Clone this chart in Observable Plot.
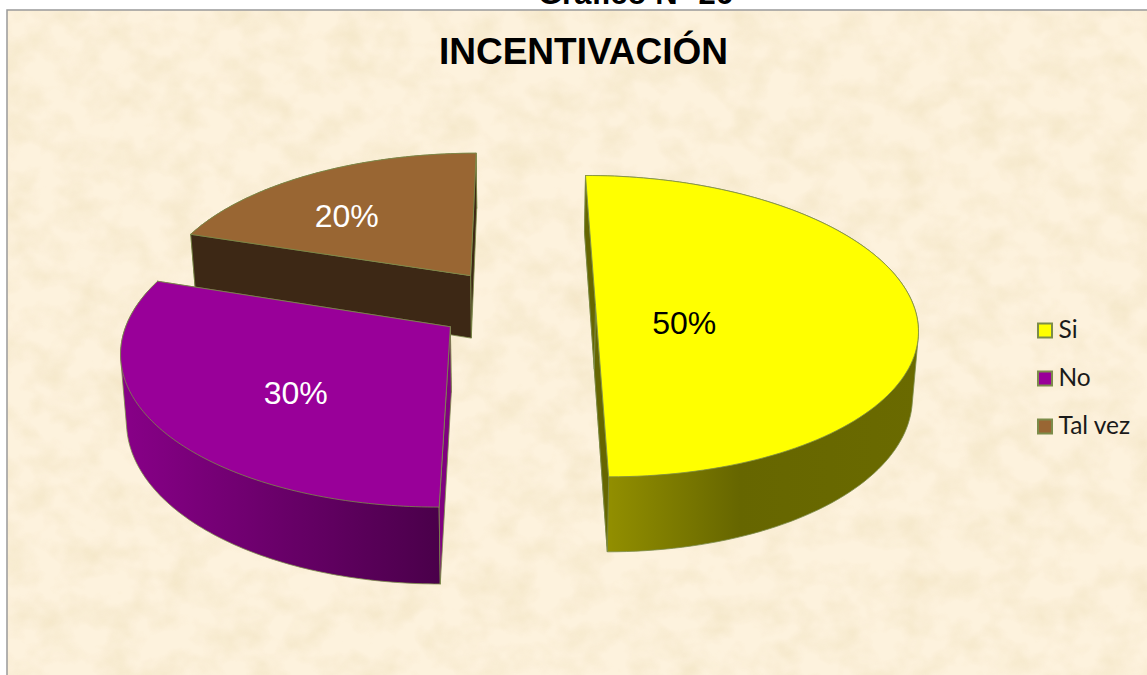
<!DOCTYPE html>
<html><head><meta charset="utf-8">
<style>html,body{margin:0;padding:0;background:#fff;overflow:hidden}svg{display:block}</style>
<script src="https://cdn.jsdelivr.net/npm/d3@7"></script>
<script src="https://cdn.jsdelivr.net/npm/@observablehq/plot@0.6"></script>
</head><body><div id="chart"></div>
<script>
const pageTitle = "Gráfico N° 26";
const chartTitle = "INCENTIVACIÓN";
const categories = ["Si", "No", "Tal vez"];
const values = [50, 30, 20];
const labels = ["50%", "30%", "20%"];
const topColors = ["#ffff00", "#990099", "#996633"];
const labelColors = ["#000000", "#ffffff", "#ffffff"];
const wallFills = ["url(#wallSi)", "url(#wallNo)", "#3d2815"];
const cutFills = ["#666600", "#800080", "#3d2815"];
const edge = "#7c8c4a";

// camera of the tilted pie: disc coordinates (u right, v toward the viewer) to the page
const cam = {x0: 515.5, y0: -729, A: 2225, H: 7232, d: 7, thick: 450, shrink: 0.985, explode: 0.25};
const project = (u, v, low) => {
  const w = cam.d - v;
  const x = cam.A * u / w * (low ? cam.shrink : 1);
  return {x: cam.x0 + x, y: cam.y0 + cam.H / w + (low ? cam.thick / w : 0)};
};
// label anchors in disc coordinates
const labelAnchors = [[0.52, 0.125], [-0.638, 0.555], [-0.582, -0.653]];

const total = d3.sum(values);
let acc = 0;
const slices = values.map((v, i) => {
  const a0 = acc / total * 2 * Math.PI; acc += v;
  const a1 = acc / total * 2 * Math.PI;
  const mid = (a0 + a1) / 2;
  return {i, a0, a1, cu: cam.explode * Math.sin(mid), cv: -cam.explode * Math.cos(mid)};
});
const rim = (s, a, low) => project(s.cu + Math.sin(a), s.cv - Math.cos(a), low);
const apex = (s, low) => project(s.cu, s.cv, low);
const arc = (s, low) => d3.range(0, 121).map(k => rim(s, s.a0 + (s.a1 - s.a0) * k / 120, low));
const close = pts => [...pts, pts[0]];
const poly = (pts, fill) => Plot.line(close(pts), {x: "x", y: "y", fill, stroke: edge, strokeWidth: 0.8, strokeLinejoin: "round"});
const hull = pts => d3.polygonHull(pts.map(p => [p.x, p.y])).map(([x, y]) => ({x, y}));

const sliceMarks = [2, 1, 0].flatMap(i => {
  const s = slices[i];
  return [
    poly(hull([...arc(s), ...arc(s, true)]), wallFills[i]),
    poly([rim(s, s.a1), apex(s), apex(s, true), rim(s, s.a1, true)], cutFills[i]),
    poly([rim(s, s.a0), apex(s), apex(s, true), rim(s, s.a0, true)], cutFills[i]),
    poly([apex(s), ...arc(s)], topColors[i])
  ];
});

const labelData = labels.map((t, i) => ({t, c: labelColors[i], ...project(...labelAnchors[i])}));
const legendData = categories.map((t, i) => ({t, c: topColors[i], x: 1044.5, y: 330 + 48 * i}));

const chart = Plot.plot({
  width: 1147, height: 675, margin: 0,
  x: {type: "linear", domain: [0, 1147], range: [0, 1147], axis: null},
  y: {type: "linear", domain: [0, 675], range: [0, 675], axis: null},
  marks: [
    Plot.rect([0], {x1: 7, x2: 1150, y1: 10, y2: 678, fill: "#fdf2dd", stroke: "#999999", strokeWidth: 1.5}),
    Plot.rect([0], {x1: 8, x2: 1147, y1: 11, y2: 675, fill: "#e8d6a8"}),
    Plot.text([pageTitle], {x: 635, y: 3, text: d => d, fontFamily: "Liberation Sans", fontWeight: "bold", fontSize: 31, lineAnchor: "bottom", fill: "#000"}),
    Plot.text([chartTitle], {x: 583, y: 52, text: d => d, fontFamily: "Liberation Sans", fontWeight: "bold", fontSize: 37, fill: "#000"}),
    ...sliceMarks,
    Plot.text(labelData, {x: "x", y: "y", text: "t", fill: "c", fontFamily: "Liberation Sans", fontSize: 32}),
    Plot.dot(legendData, {x: "x", y: "y", symbol: "square", r: 7.9, fill: "c", stroke: edge, strokeWidth: 2}),
    Plot.text(legendData, {x: 1058, y: "y", text: "t", textAnchor: "start", fill: "#1a1a1a", fontFamily: "Lato", fontSize: 24.5})
  ]
});

const NS = "http://www.w3.org/2000/svg";
const defs = document.createElementNS(NS, "defs");
defs.innerHTML = `
  <linearGradient id="wallSi" gradientUnits="userSpaceOnUse" x1="610" y1="0" x2="918" y2="0">
    <stop offset="0" stop-color="#918e00"/><stop offset="0.42" stop-color="#666600"/><stop offset="1" stop-color="#6a6a00"/>
  </linearGradient>
  <linearGradient id="wallNo" gradientUnits="userSpaceOnUse" x1="120" y1="0" x2="440" y2="0">
    <stop offset="0" stop-color="#880088"/><stop offset="1" stop-color="#4a004a"/>
  </linearGradient>
  <filter id="paper" x="0" y="0" width="1" height="1" color-interpolation-filters="sRGB">
    <feTurbulence type="fractalNoise" baseFrequency="0.03 0.035" numOctaves="3" seed="7" result="n"/>
    <feColorMatrix in="n" type="matrix" values="0 0 0 0 0.91  0 0 0 0 0.84  0 0 0 0 0.66  0.7 0 0 0 -0.27" result="a"/>
    <feComposite in="a" in2="SourceAlpha" operator="in"/>
  </filter>`;
chart.insertBefore(defs, chart.firstChild);
const tex = chart.querySelectorAll('g[aria-label="rect"]')[1];
if (tex) tex.setAttribute("filter", "url(#paper)");
document.getElementById("chart").append(chart);
</script></body></html>
